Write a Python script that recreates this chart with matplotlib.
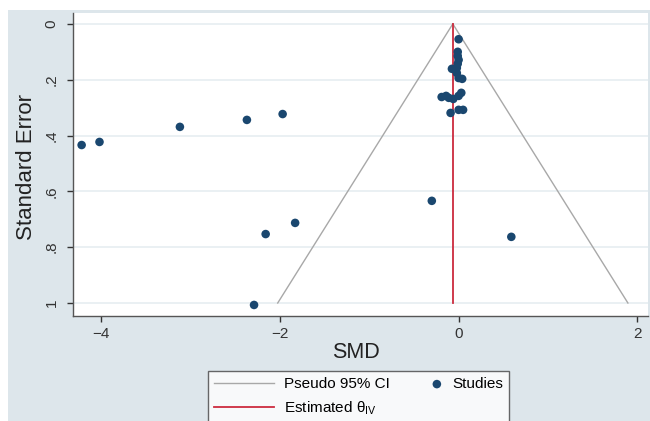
import matplotlib
matplotlib.use('Agg')
import matplotlib.pyplot as plt
from matplotlib.legend_handler import HandlerPathCollection
import numpy as np

# study effect sizes (SMD) and their standard errors
smd = [-4.22, -4.02, -3.12, -2.37, -1.97, -2.16, -1.83, -2.29, -0.30, 0.59,
       0.00, -0.01, -0.01, 0.00, -0.01, -0.02, -0.075, -0.02, 0.00, 0.04,
       -0.14, -0.19, -0.11, -0.06, 0.00, 0.03, -0.09, 0.00, 0.05]
se = [0.434, 0.423, 0.369, 0.344, 0.323, 0.753, 0.713, 1.007, 0.634, 0.763,
      0.055, 0.100, 0.115, 0.129, 0.143, 0.158, 0.161, 0.176, 0.194, 0.197,
      0.258, 0.262, 0.265, 0.269, 0.258, 0.247, 0.319, 0.308, 0.308]
theta_iv = -0.065
se_max = 1.0

navy = '#1a476f'
bg = '#dde6eb'

plt.rcParams['font.family'] = ['Liberation Sans', 'DejaVu Sans']


class RightDot(HandlerPathCollection):
    # put the legend dot at the right end of its handle box
    def get_xdata(self, legend, xdescent, ydescent, width, height, fontsize):
        x = [-xdescent + width - 0.3*fontsize]
        return x, x


fig = plt.figure(figsize=(6.5, 4.21), dpi=100, facecolor='white')
fig.patches.append(plt.Rectangle((8/650, 0), 1, 1 - 10/421, transform=fig.transFigure,
                                 facecolor=bg, edgecolor='none', zorder=-10))
ax = fig.add_axes([72.7/650, 1 - 315.7/421, (648 - 72.7)/650, (315.7 - 13)/421])
ax.set_facecolor('white')

# pseudo 95% confidence limits
se_line = np.array([0, se_max])
ci, = ax.plot(theta_iv - 1.96*se_line, se_line, color='#a8a8a8', lw=1.0, zorder=2)
ax.plot(theta_iv + 1.96*se_line, se_line, color='#a8a8a8', lw=1.0, zorder=2)
est, = ax.plot([theta_iv, theta_iv], [0, se_max], color='#cc2b3e', lw=1.3, zorder=3)
pts = ax.scatter(smd, se, s=38, color=navy, edgecolors='none', zorder=4)

ax.set_xlim(-4.32, 2.12)
ax.set_ylim(1.0455, -0.039)
ax.set_xticks([-4, -2, 0, 2])
ax.set_xticklabels(['\u22124', '\u22122', '0', '2'])
ax.set_yticks([0, 0.2, 0.4, 0.6, 0.8, 1])
ax.set_yticklabels(['0', '.2', '.4', '.6', '.8', '1'], rotation=90, va='center')
ax.grid(axis='y', color='#e6eef1', lw=1.2, zorder=0)
ax.set_axisbelow(True)
for s in ['top', 'right']:
    ax.spines[s].set_visible(False)
for s in ['left', 'bottom']:
    ax.spines[s].set_color('#555555')
    ax.spines[s].set_linewidth(1.0)
ax.tick_params(colors='#333333', labelsize=11, length=4, width=1, direction='out')
ax.tick_params(axis='x', pad=4)
ax.tick_params(axis='y', pad=6)

fig.text(27/650, 1 - 167.5/421, 'Standard Error', rotation=90, ha='center', va='center',
         fontsize=16, color='#222222')
fig.text(356/650, 1 - 353/421, 'SMD', ha='center', va='center', fontsize=15.5, color='#222222')

leg = fig.legend([ci, est, pts],
                 ['Pseudo 95% CI', r'Estimated $\mathregular{\theta_{IV}}$', 'Studies'],
                 ncol=2, loc='upper left', bbox_to_anchor=(208/650, 1 - 371/421),
                 borderaxespad=0, fontsize=11, frameon=True, fancybox=False,
                 edgecolor='#444444', facecolor='white', handlelength=3.9,
                 handletextpad=0.7, columnspacing=-0.55, borderpad=0.4,
                 labelspacing=0.55, scatterpoints=1,
                 handler_map={pts: RightDot()})
leg.get_frame().set_linewidth(1.0)

fig.savefig('out.png', dpi=100, facecolor='white')
